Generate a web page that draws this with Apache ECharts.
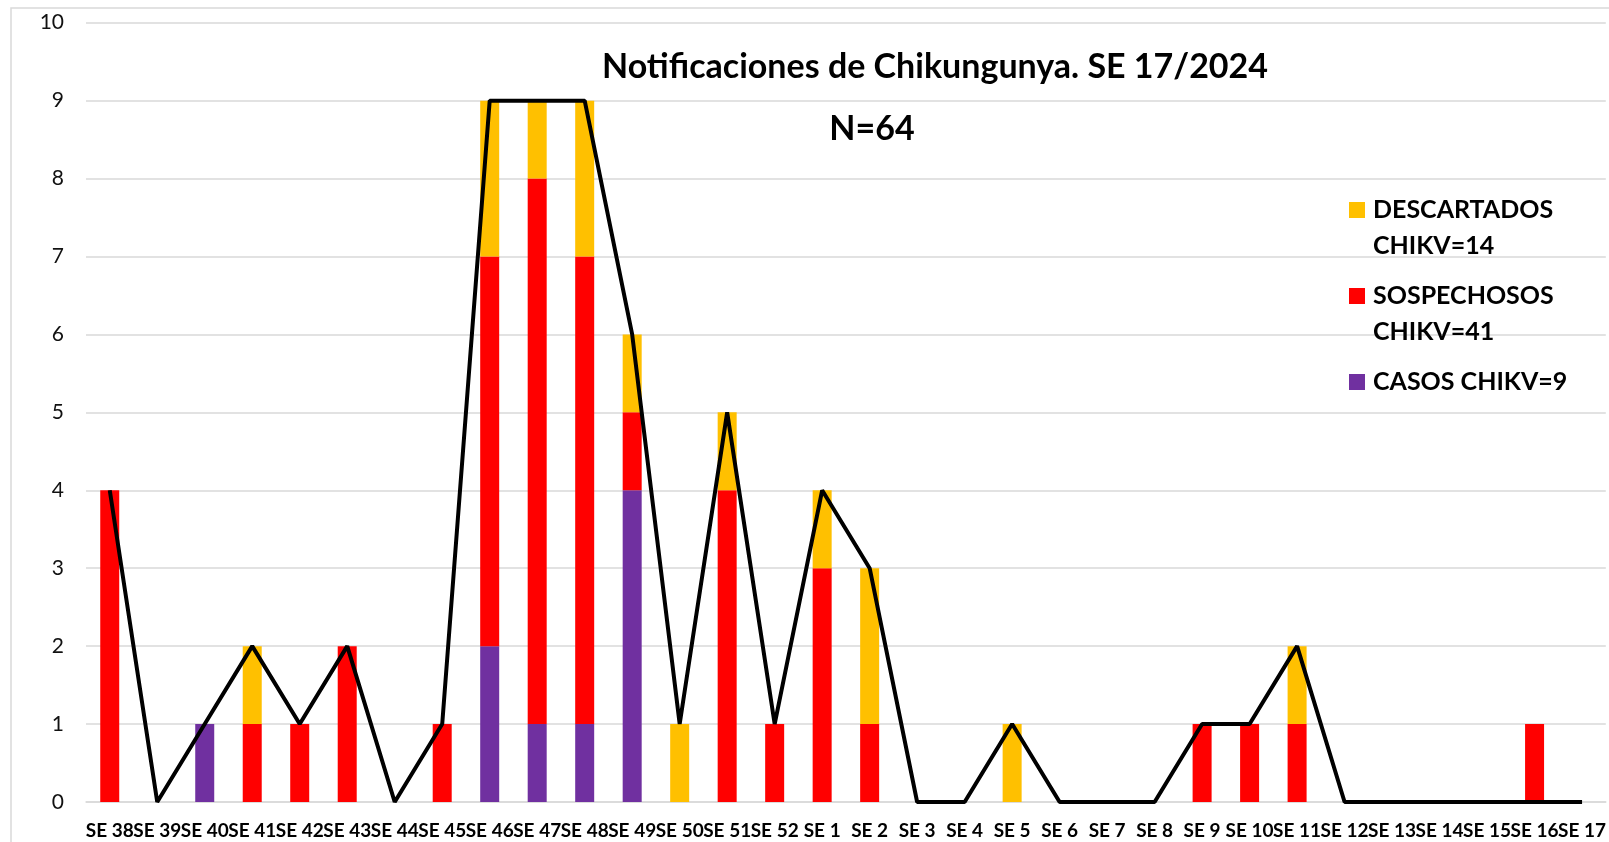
<!DOCTYPE html>
<html>
<head>
<meta charset="utf-8">
<title>Notificaciones de Chikungunya</title>
<script src="https://cdn.jsdelivr.net/npm/echarts@6/dist/echarts.min.js"></script>
<style>
    html, body { margin: 0; padding: 0; background: #fff; }
    #chart { width: 1609px; height: 842px; }
</style>
</head>
<body>
<div id="chart"></div>
<script>
// semanas epidemiologicas
const semanas = [
    'SE 38', 'SE 39', 'SE 40', 'SE 41', 'SE 42', 'SE 43', 'SE 44', 'SE 45',
    'SE 46', 'SE 47', 'SE 48', 'SE 49', 'SE 50', 'SE 51', 'SE 52',
    'SE 1', 'SE 2', 'SE 3', 'SE 4', 'SE 5', 'SE 6', 'SE 7', 'SE 8',
    'SE 9', 'SE 10', 'SE 11', 'SE 12', 'SE 13', 'SE 14', 'SE 15', 'SE 16', 'SE 17',
];

const casos = [0, 0, 1, 0, 0, 0, 0, 0, 2, 1, 1, 4, 0, 0, 0, 0, 0, 0, 0, 0, 0, 0, 0, 0, 0, 0, 0, 0, 0, 0, 0, 0];
const sospechosos = [4, 0, 0, 1, 1, 2, 0, 1, 5, 7, 6, 1, 0, 4, 1, 3, 1, 0, 0, 0, 0, 0, 0, 1, 1, 1, 0, 0, 0, 0, 1, 0];
const descartados = [0, 0, 0, 1, 0, 0, 0, 0, 2, 1, 2, 1, 1, 1, 0, 1, 2, 0, 0, 1, 0, 0, 0, 0, 0, 1, 0, 0, 0, 0, 0, 0];
// linea de total tal como aparece en el grafico
const totalLinea = [4, 0, 1, 2, 1, 2, 0, 1, 9, 9, 9, 6, 1, 5, 1, 4, 3, 0, 0, 1, 0, 0, 0, 1, 1, 2, 0, 0, 0, 0, 0, 0];

const yTicks = [0, 1, 2, 3, 4, 5, 6, 7, 8, 9, 10];

const FONT = 'Lato, "Open Sans", sans-serif';
// la primera linea vacia baja el texto para que el cuadro quede a la altura de la primera linea
const legendText = {
    DESCARTADOS: ' \nDESCARTADOS\nCHIKV=14',
    SOSPECHOSOS: ' \nSOSPECHOSOS\nCHIKV=41',
    CASOS: 'CASOS CHIKV=9',
};

function makeLegend(name, top) {
    return {
        data: [name],
        orient: 'vertical',
        left: 1349,
        top: top,
        padding: 0,
        icon: 'rect',
        itemWidth: 16,
        itemHeight: 16,
        selectedMode: false,
        formatter: (n) => legendText[n],
        textStyle: {
            fontFamily: FONT,
            fontWeight: 'bold',
            fontSize: 25,
            lineHeight: 36,
            color: '#000',
            padding: [0, 0, 0, 3],
        },
    };
}

const chart = echarts.init(document.getElementById('chart'));

const option = {
    animation: false,
    backgroundColor: '#fff',
    graphic: [
        {
            type: 'rect',
            shape: { x: 11, y: 8, width: 1700, height: 900 },
            style: { fill: 'none', stroke: '#d9d9d9', lineWidth: 1.5 },
            silent: true,
        },
        {
            type: 'text',
            x: 935,
            y: 67,
            style: {
                text: 'Notificaciones de Chikungunya. SE 17/2024',
                fontFamily: FONT,
                fontWeight: 'bold',
                fontSize: 34,
                fill: '#000',
                textAlign: 'center',
                textVerticalAlign: 'middle',
            },
        },
        {
            type: 'text',
            x: 872,
            y: 129,
            style: {
                text: 'N=64',
                fontFamily: FONT,
                fontWeight: 'bold',
                fontSize: 34,
                fill: '#000',
                textAlign: 'center',
                textVerticalAlign: 'middle',
            },
        },
    ],
    legend: [
        makeLegend('DESCARTADOS', 156),
        makeLegend('SOSPECHOSOS', 242),
        makeLegend('CASOS', 364),
    ],
    grid: {
        left: 86,
        right: -1,
        top: 22.7,
        bottom: 40,
        containLabel: false,
    },
    xAxis: {
        type: 'category',
        data: semanas,
        boundaryGap: true,
        axisLine: { lineStyle: { color: '#d9d9d9', width: 1.5 } },
        axisTick: { show: false },
        axisLabel: {
            interval: 0,
            margin: 19,
            fontFamily: FONT,
            fontWeight: 'bold',
            fontSize: 19,
            color: '#000',
        },
    },
    yAxis: {
        type: 'value',
        min: yTicks[0],
        max: yTicks[yTicks.length - 1],
        interval: 1,
        axisLine: { show: false },
        axisTick: { show: false },
        splitLine: { lineStyle: { color: '#d9d9d9', width: 1.5 } },
        axisLabel: {
            margin: 22,
            fontFamily: FONT,
            fontSize: 21,
            color: '#111',
        },
    },
    series: [
        {
            name: 'CASOS',
            type: 'bar',
            stack: 'total',
            barWidth: '40%',
            itemStyle: { color: '#7030a0' },
            data: casos,
        },
        {
            name: 'SOSPECHOSOS',
            type: 'bar',
            stack: 'total',
            barWidth: '40%',
            itemStyle: { color: '#ff0000' },
            data: sospechosos,
        },
        {
            name: 'DESCARTADOS',
            type: 'bar',
            stack: 'total',
            barWidth: '40%',
            itemStyle: { color: '#ffc000' },
            data: descartados,
        },
        {
            name: 'Total',
            type: 'line',
            symbol: 'none',
            z: 5,
            lineStyle: { color: '#000', width: 4 },
            data: totalLinea,
        },
    ],
};

chart.setOption(option);
</script>
</body>
</html>
